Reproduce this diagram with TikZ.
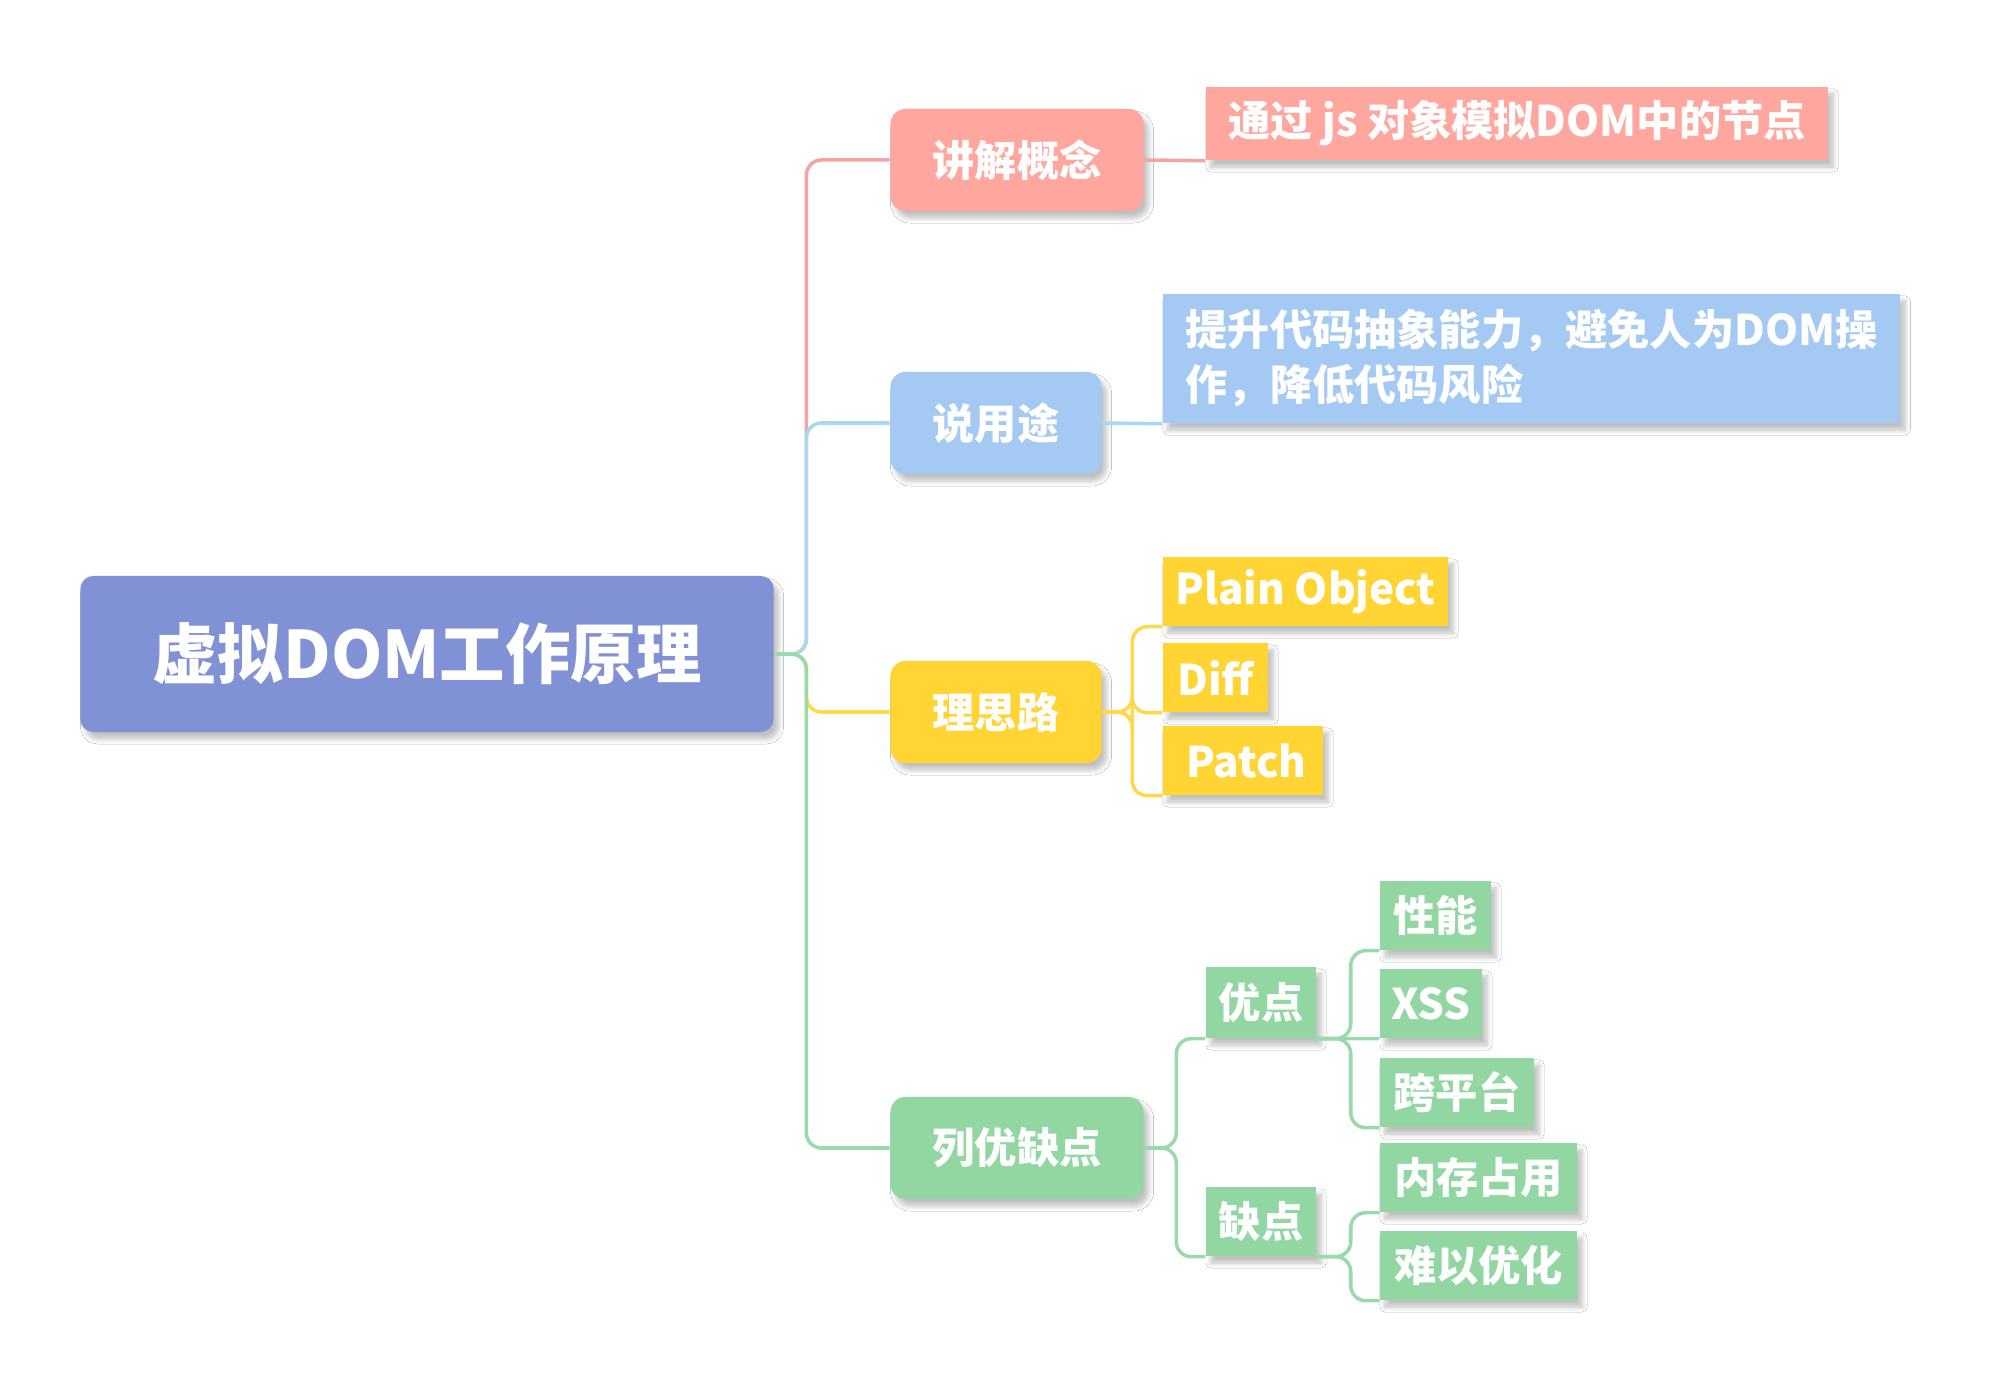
\documentclass[tikz,border=0pt]{standalone}
\usepackage{fontspec}
\setmainfont{Noto Sans CJK SC}
\usepackage{tikz}
\usetikzlibrary{positioning,shadows,shadows.blur}

\definecolor{rootblue}{HTML}{8191D5}
\definecolor{conceptred}{HTML}{FFA79F}
\definecolor{usageblue}{HTML}{A4CAF3}
\definecolor{thinkyellow}{HTML}{FFD433}
\definecolor{prosgreen}{HTML}{92D7A2}
\definecolor{conceptline}{HTML}{F5A3A3}
\definecolor{usageline}{HTML}{A9D9F0}
\definecolor{thinkline}{HTML}{FFD84C}
\definecolor{prosline}{HTML}{9AD9AA}

\begin{document}
\begin{tikzpicture}[x=0.01cm, y=-0.01cm,
	soft/.style={blur shadow={shadow blur steps=6, shadow blur radius=0.05cm, shadow xshift=0.05cm,
		shadow yshift=-0.07cm, shadow opacity=25}},
	topic/.style={soft, rounded corners=0.15cm, text=white, inner sep=0.1cm,
		font=\fontsize{12}{14}\selectfont\bfseries, minimum height=1.02cm},
	leaf/.style={soft, text=white, inner sep=0.1cm,
		font=\fontsize{12}{15.6}\selectfont\bfseries, minimum height=0.69cm},
	branch/.style={line width=1pt, rounded corners=0.15cm}]
	\useasboundingbox[fill=white] (0,0) rectangle (1994,1392);
	% root
	\node[soft, rounded corners=0.13cm, fill=rootblue, text=white, minimum width=6.93cm, minimum height=1.56cm,
		font=\fontsize{18.6}{20}\selectfont\bfseries] (root) at (427,654) {虚拟DOM工作原理};
	% first level
	\node[topic, fill=conceptred, minimum width=2.53cm] (concept) at (1017,160) {讲解概念};
	\node[topic, fill=usageblue, minimum width=2.11cm] (usage) at (996,423) {说用途};
	\node[topic, fill=thinkyellow, minimum width=2.11cm] (think) at (996,712) {理思路};
	\node[topic, fill=prosgreen, minimum width=2.53cm] (pros) at (1017,1148) {列优缺点};
	% details
	\node[leaf, fill=conceptred, minimum width=6.22cm, minimum height=0.73cm] (desc1) at (1517,123.5) {通过 js 对象模拟DOM中的节点};
	\node[leaf, fill=usageblue, minimum width=7.37cm, minimum height=1.29cm, align=left] (desc2) at (1531.5,358.5)
		{提升代码抽象能力，避免人为DOM操\\作，降低代码风险};
	\node[leaf, fill=thinkyellow, minimum width=2.85cm] (plain) at (1305.5,591.5) {Plain Object};
	\node[leaf, fill=thinkyellow, minimum width=1.05cm] (diff) at (1215.5,677.5) {Diff};
	\node[leaf, fill=thinkyellow, minimum width=1.60cm] (patch) at (1243,760.5) {\,Patch};
	\node[leaf, fill=prosgreen, minimum width=1.10cm, minimum height=0.71cm] (adv) at (1261,1002.5) {优点};
	\node[leaf, fill=prosgreen, minimum width=1.10cm] (dis) at (1261,1221.5) {缺点};
	\node[leaf, fill=prosgreen, minimum width=1.11cm] (perf) at (1435.5,915.5) {性能};
	\node[leaf, fill=prosgreen, minimum width=1.02cm] (xss) at (1431,1003.5) {XSS};
	\node[leaf, fill=prosgreen, minimum width=1.54cm] (cross) at (1457,1092.5) {跨平台};
	\node[leaf, fill=prosgreen, minimum width=1.97cm] (mem) at (1478.5,1177.5) {内存占用};
	\node[leaf, fill=prosgreen, minimum width=1.97cm] (opt) at (1478.5,1265.5) {难以优化};
	% connectors
	\draw[branch, conceptline] (root.east) -- ++(32,0) |- (concept.west);
	\draw[branch, usageline] (root.east) -- ++(32,0) |- (usage.west);
	\draw[branch, thinkline] (root.east) -- ++(32,0) |- (think.west);
	\draw[branch, prosline] (root.east) -- ++(32,0) |- (pros.west);
	\draw[branch, conceptline] (concept.east) -- (desc1.south west);
	\draw[branch, usageline] (usage.east) -- (desc2.south west);
	\draw[branch, thinkline] (think.east) -- ++(30,0) |- (plain.south west);
	\draw[branch, thinkline] (think.east) -- ++(30,0) |- (diff.south west);
	\draw[branch, thinkline] (think.east) -- ++(30,0) |- (patch.south west);
	\draw[branch, prosline] (pros.east) -- ++(32,0) |- (adv.south west);
	\draw[branch, prosline] (pros.east) -- ++(32,0) |- (dis.south west);
	\draw[branch, prosline] (adv.south east) -- ++(34,0) |- (perf.south west);
	\draw[branch, prosline] (adv.south east) -- (xss.south west);
	\draw[branch, prosline] (adv.south east) -- ++(34,0) |- (cross.south west);
	\draw[branch, prosline] (dis.south east) -- ++(34,0) |- (mem.south west);
	\draw[branch, prosline] (dis.south east) -- ++(34,0) |- (opt.south west);
\end{tikzpicture}
\end{document}
